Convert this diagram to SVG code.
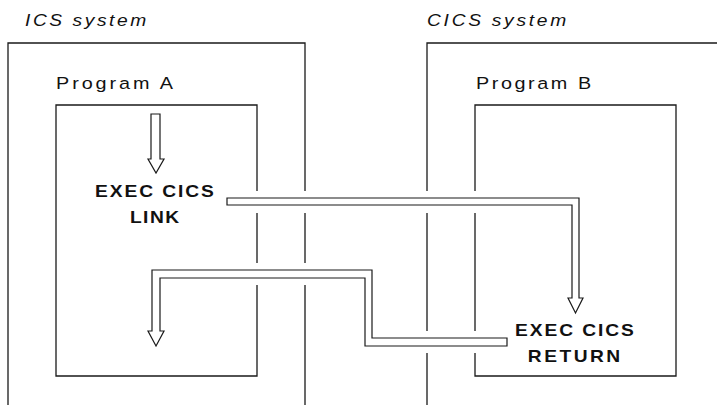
<svg xmlns="http://www.w3.org/2000/svg" width="717" height="405" viewBox="0 0 717 405">
<style>
.ln{fill:none;stroke:#1a1a1a;stroke-width:1.3}
.arr{fill:#fff;stroke:#1a1a1a;stroke-width:1.2;stroke-linejoin:miter}
.sys{font-family:"Liberation Sans",Arial,sans-serif;font-style:italic;font-size:16px;fill:#111}
.prg{font-family:"Liberation Sans",Arial,sans-serif;font-size:16.5px;fill:#111}
.cmd{font-family:"Liberation Sans",Arial,sans-serif;font-size:16px;font-weight:bold;fill:#111;text-anchor:middle}
</style>
<rect width="717" height="405" fill="#fff"/>
<g id="ics-system">
<path class="ln" d="M8,405 V43 H305 V191 M305,213 V263 M305,285 V405"/>
<text class="sys" transform="translate(25,26) scale(1.2,1)" textLength="101" lengthAdjust="spacing">ICS system</text>
</g>
<g id="cics-system">
<path class="ln" d="M717,43 H427 V191 M427,213 V331 M427,353 V405"/>
<text class="sys" transform="translate(427,26) scale(1.2,1)" textLength="116" lengthAdjust="spacing">CICS system</text>
</g>
<g id="program-a">
<path class="ln" d="M257,191 V105 H56 V376 H257 V285 M257,263 V213"/>
<text class="prg" transform="translate(56,89) scale(1.2,1)" textLength="97.5" lengthAdjust="spacing">Program A</text>
<text class="cmd" transform="translate(154.5,197) scale(1.2,1)" textLength="99" lengthAdjust="spacing">EXEC CICS</text>
<text class="cmd" transform="translate(154.5,223) scale(1.2,1)" textLength="41" lengthAdjust="spacing">LINK</text>
</g>
<g id="program-b">
<path class="ln" d="M475,191 V105 H676 V376 H475 V353 M475,331 V213"/>
<text class="prg" transform="translate(476,89) scale(1.2,1)" textLength="96" lengthAdjust="spacing">Program B</text>
<text class="cmd" transform="translate(574.5,336) scale(1.2,1)" textLength="99" lengthAdjust="spacing">EXEC CICS</text>
<text class="cmd" transform="translate(574,362) scale(1.2,1)" textLength="77" lengthAdjust="spacing">RETURN</text>
</g>
<g id="connectors">
<path id="flow-in" class="arr" d="M151,114 H160 V159 H164 L156,173 L148,159 H151 Z"/>
<path id="link" class="arr" d="M227,198 H579 V298 H583 L575.5,313 L568,298 H572 V205 H227 Z"/>
<path id="return" class="arr" d="M507,338 H372 V270 H152 V331 H148 L156,346 L164,331 H160 V278 H365 V346 H507 Z"/>
</g>
</svg>
